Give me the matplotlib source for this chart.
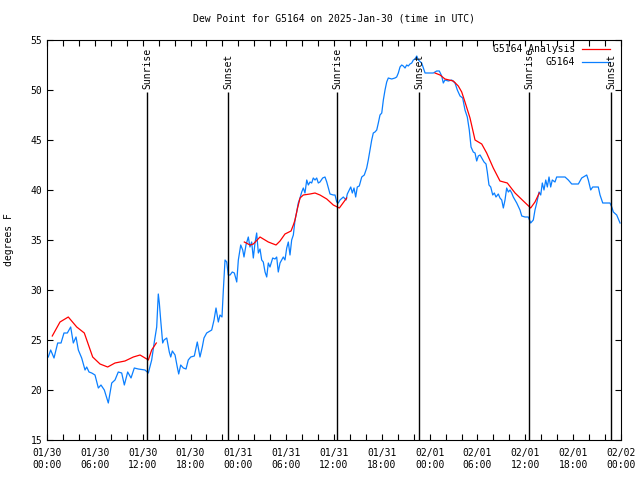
import matplotlib
matplotlib.use('Agg')
import matplotlib.pyplot as plt
import numpy as np

# hours since 2025-01-30 00:00 UTC, dew point in degrees F
obs_hours = [0.16, 0.46, 0.88, 1.34, 1.76, 2.13, 2.55, 2.97, 3.30, 3.64, 3.93, 4.35, 4.77, 4.98,
             5.27, 5.61, 6.02, 6.44, 6.77, 7.19, 7.69, 8.12, 8.53, 8.94, 9.37, 9.70, 10.12, 10.54,
             10.95, 11.45, 12.29, 12.71, 13.13, 13.46, 13.76, 13.96, 14.09, 14.26, 14.51, 14.68,
             15.02, 15.34, 15.52, 15.72, 16.06, 16.34, 16.52, 16.77, 17.10, 17.44, 17.72, 18.03,
             18.48, 18.85, 19.19, 19.48, 19.69, 20.03, 20.66, 20.95, 21.20, 21.49, 21.70, 21.95,
             22.12, 22.33, 22.54, 22.74, 22.96, 23.24, 23.50, 23.80, 24.00, 24.30, 24.55, 24.71,
             24.96, 25.25, 25.46, 25.67, 25.88, 26.09, 26.30, 26.51, 26.72, 26.93, 27.13, 27.35,
             27.56, 27.76, 27.97, 28.31, 28.60, 28.81, 29.01, 29.23, 29.44, 29.64, 29.85, 30.07,
             30.27, 30.48, 30.69, 30.90, 31.11, 31.32, 31.52, 31.74, 31.95, 32.15, 32.36, 32.58,
             32.78, 32.99, 33.20, 33.40, 33.62, 33.83, 34.03, 34.24, 34.58, 34.87, 35.09, 35.29,
             35.50, 35.91, 36.13, 36.34, 36.54, 36.75, 37.17, 37.51, 37.67, 37.92, 38.10, 38.30,
             38.51, 38.72, 38.92, 39.17, 39.48, 39.80, 40.10, 40.30, 40.52, 40.73, 40.93, 41.14,
             41.36, 41.56, 41.77, 41.99, 42.19, 42.40, 42.61, 42.81, 43.24, 43.65, 43.86, 44.07,
             44.28, 44.49, 44.69, 44.91, 45.12, 45.32, 45.53, 45.75, 45.95, 46.16, 46.38, 46.58,
             47.00, 47.42, 48.04, 48.46, 48.88, 49.21, 49.51, 49.71, 49.92, 50.34, 50.76, 51.18,
             51.47, 51.81, 52.14, 52.43, 52.72, 52.97, 53.19, 53.47, 53.69, 53.90, 54.10, 54.32,
             54.53, 54.82, 55.07, 55.23, 55.44, 55.66, 55.91, 56.11, 56.32, 56.61, 56.82, 57.04,
             57.24, 57.45, 57.66, 57.87, 58.08, 58.29, 58.49, 58.71, 58.92, 59.33, 59.55, 59.96,
             60.37, 60.67, 61.00, 61.21, 61.43, 61.72, 61.93, 62.13, 62.34, 62.56, 62.76, 62.97,
             63.18, 63.38, 63.72, 63.93, 64.35, 64.98, 65.39, 65.82, 66.65, 67.07, 67.70, 67.90,
             68.20, 68.45, 69.15, 69.37, 69.71, 70.62, 70.84, 71.04, 71.46, 71.88]
obs_vals = [23.3, 24.0, 23.2, 24.7, 24.7, 25.7, 25.7, 26.3, 24.7, 25.3, 24.0, 23.2, 22.0, 22.3,
            21.8, 21.7, 21.5, 20.2, 20.5, 20.0, 18.7, 20.7, 21.0, 21.8, 21.7, 20.5, 21.8, 21.2,
            22.2, 22.1, 22.0, 21.7, 23.0, 24.8, 26.3, 29.6, 28.7, 27.0, 24.7, 25.0,
            25.2, 23.8, 23.3, 23.9, 23.5, 22.3, 21.6, 22.5, 22.2, 22.1, 23.0, 23.3,
            23.4, 24.8, 23.3, 24.3, 25.2, 25.7, 26.0, 27.0, 28.2, 26.8, 27.5, 27.3,
            30.0, 33.0, 32.8, 31.5, 31.5, 31.8, 31.7, 30.8, 33.0, 34.5, 34.0, 33.3,
            34.5, 35.3, 34.3, 34.8, 33.2, 34.7, 35.7, 33.7, 34.1, 33.0, 32.8, 31.8,
            31.3, 32.7, 32.3, 33.2, 33.1, 33.3, 31.8, 32.7, 33.0, 33.3, 33.0, 34.2,
            34.8, 33.5, 35.0, 35.5, 37.0, 37.8, 38.7, 39.2, 39.8, 40.2, 39.7, 41.0,
            40.5, 40.8, 40.7, 41.2, 41.0, 41.2, 40.7, 40.8, 41.2, 41.3, 40.8, 40.2,
            39.6, 39.5, 39.5, 38.8, 38.7, 39.0, 39.3, 39.0, 39.6, 40.0, 40.3, 39.7,
            40.2, 39.3, 40.3, 40.4, 41.3, 41.5, 42.2, 43.0, 44.0, 45.0, 45.7, 45.8,
            46.0, 46.7, 47.5, 47.7, 49.0, 50.0, 50.8, 51.2, 51.1, 51.2, 51.3, 51.7,
            52.3, 52.5, 52.4, 52.2, 52.5, 52.4, 52.6, 52.7, 53.0, 53.1, 53.4, 53.0,
            52.7, 51.7, 51.7, 51.7, 51.9, 51.9, 51.4, 50.7, 51.0, 50.9, 51.0, 50.7,
            50.0, 49.4, 49.2, 48.0, 47.3, 46.0, 44.3, 43.8, 43.7, 42.9, 43.4, 43.5,
            43.2, 42.8, 42.6, 41.8, 40.5, 40.3, 39.5, 39.7, 39.3, 39.6, 39.2, 39.0,
            38.2, 39.0, 40.2, 39.8, 40.0, 39.7, 39.3, 39.0, 38.7, 38.0, 37.4, 37.3,
            37.3, 36.7, 37.0, 38.0, 38.7, 39.8, 39.5, 40.7, 40.0, 41.0, 40.3, 41.3,
            40.3, 41.0, 40.8, 41.3, 41.3, 41.3, 41.0, 40.6, 40.6, 41.2, 41.5, 41.0,
            40.0, 40.3, 40.3, 39.5, 38.7, 38.7, 38.3, 37.8, 37.5, 36.7]

# analysis curve, NaN marks the gaps
ana_hours = [0.66, 1.63, 2.67, 3.73, 4.68, 5.73, 6.65, 7.61, 8.53, 9.78, 10.83, 11.67, 12.51,
             12.71, 13.13, 13.71, np.nan,
             24.75, 25.46, 25.88, 26.72, 27.76, 28.73, 29.23, 29.85, 30.61, 30.90, 31.11, 31.40,
             31.74, 32.15, 32.99, 33.62, 34.24, 35.09, 35.91, 36.67, 37.59, np.nan,
             48.67, 49.30, 49.92, 50.97, 51.59, 52.02, 52.43, 53.06, 53.69, 54.53, 55.15, 55.98,
             56.82, 57.74, 58.71, 59.75, 60.67, 61.21, 61.75]
ana_vals = [25.4, 26.8, 27.3, 26.3, 25.7, 23.3, 22.6, 22.3, 22.7, 22.9, 23.3, 23.5, 23.1,
            23.0, 24.0, 24.7, np.nan,
            34.8, 34.5, 34.6, 35.3, 34.8, 34.5, 34.9, 35.6, 35.9, 36.5, 37.0, 38.1,
            39.2, 39.5, 39.6, 39.7, 39.5, 39.1, 38.5, 38.2, 39.2, np.nan,
            51.7, 51.5, 51.1, 50.9, 50.4, 49.8, 48.8, 47.2, 45.0, 44.6, 43.7, 42.2,
            40.9, 40.7, 39.7, 38.9, 38.2, 38.8, 39.7]

sun_hours = [12.54, 22.70, 36.38, 46.66, 60.46, 70.75]
sun_labels = ['Sunrise', 'Sunset', 'Sunrise', 'Sunset', 'Sunrise', 'Sunset']

tick_hours = list(range(0, 73, 6))
tick_labels = ['01/30\n00:00', '01/30\n06:00', '01/30\n12:00', '01/30\n18:00',
               '01/31\n00:00', '01/31\n06:00', '01/31\n12:00', '01/31\n18:00',
               '02/01\n00:00', '02/01\n06:00', '02/01\n12:00', '02/01\n18:00',
               '02/02\n00:00']

plt.rcParams['font.family'] = ['DejaVu Sans Mono']
fs = 7

fig = plt.figure(figsize=(6.4, 4.8), dpi=100)
ax = fig.add_axes([47/640, 40/480, 574/640, 400/480])

ax.plot(obs_hours, obs_vals, color='#0a7fff', lw=0.9)
ax.plot(ana_hours, ana_vals, color='#ff0000', lw=0.9)

# sunrise / sunset markers
ax.vlines(sun_hours, 15, 49.8, color='black', lw=1.0)
for h, lab in zip(sun_hours, sun_labels):
    ax.text(h + 0.1, 50.1, lab, rotation=90, ha='center', va='bottom', fontsize=fs)

# legend drawn by hand so the labels are right aligned like gnuplot
ax.text(0.920, 0.9775, 'G5164 Analysis', transform=ax.transAxes, ha='right', va='center', fontsize=fs)
ax.plot([0.932, 0.981], [0.9775, 0.9775], transform=ax.transAxes, color='#ff0000', lw=0.9)
ax.text(0.920, 0.945, 'G5164', transform=ax.transAxes, ha='right', va='center', fontsize=fs)
ax.plot([0.932, 0.981], [0.945, 0.945], transform=ax.transAxes, color='#0a7fff', lw=0.9)

ax.set_xlim(0, 72)
ax.set_ylim(15, 55)
ax.set_xticks(tick_hours)
ax.set_xticklabels(tick_labels, fontsize=fs)
ax.set_xticks(range(0, 73, 2), minor=True)
ax.set_yticks(range(15, 56, 5))
ax.tick_params(axis='y', labelsize=fs)
ax.tick_params(which='both', direction='in', top=True, right=True, length=4, width=0.8)
ax.tick_params(axis='x', pad=6)
for s in ax.spines.values():
    s.set_linewidth(0.8)

ax.set_ylabel('degrees F', fontsize=fs, labelpad=12)
ax.set_title('Dew Point for G5164 on 2025-Jan-30 (time in UTC)', fontsize=fs, pad=13)

fig.savefig('out.png', dpi=100)
